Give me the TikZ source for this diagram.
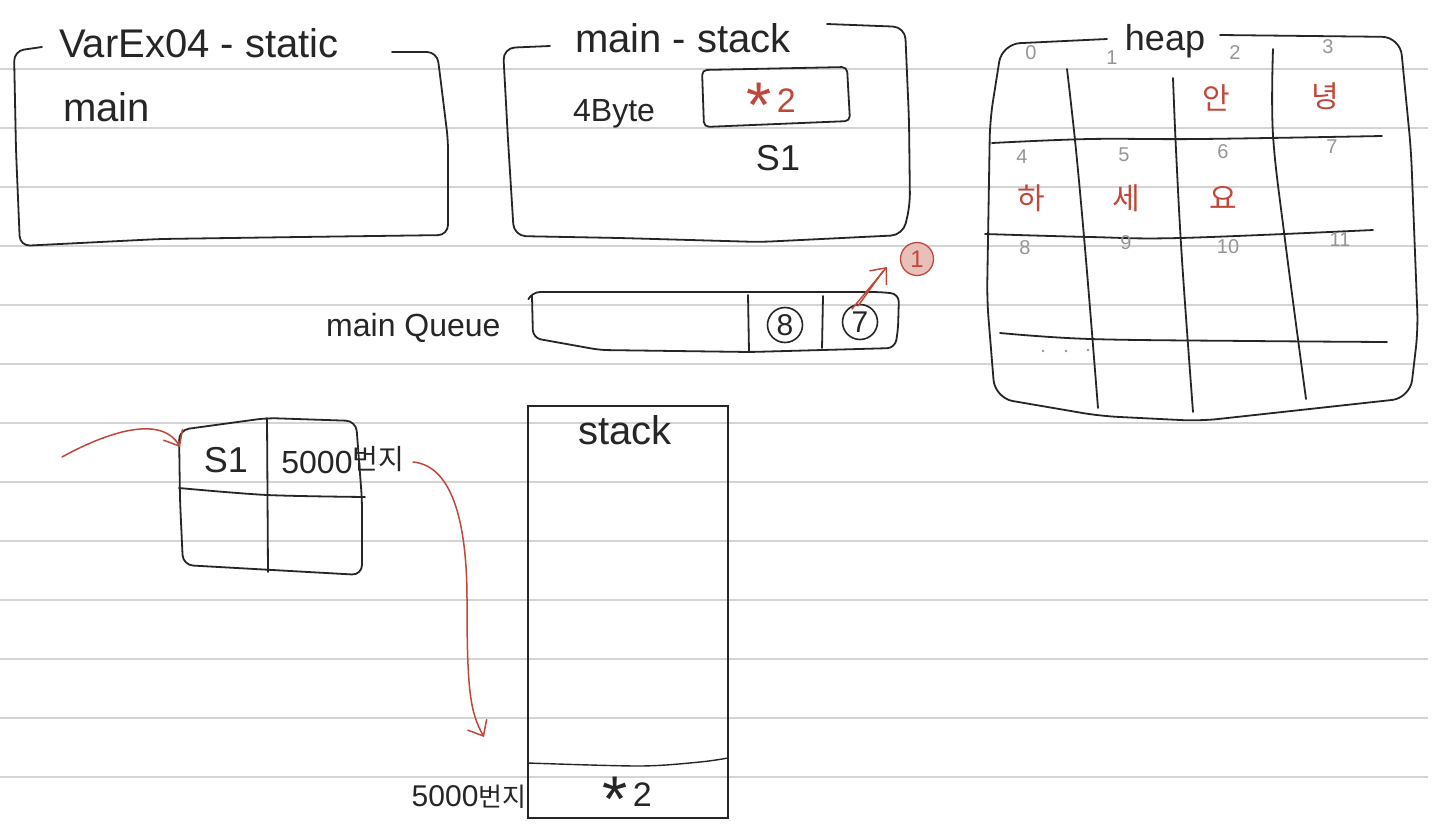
\documentclass[tikz,border=0pt]{standalone}
\usepackage{fontspec}
\setmainfont{Liberation Sans}
\newfontfamily\kr{Noto Sans CJK KR}
\usetikzlibrary{arrows.meta}
\definecolor{penc}{RGB}{38,38,38}
\definecolor{hred}{RGB}{192,72,58}
\definecolor{numgray}{RGB}{150,150,150}
\definecolor{rulec}{RGB}{212,212,212}
\newcommand{\hstar}{\raisebox{-15pt}{\scalebox{1.9}{*}}\,}
\begin{document}
\begin{tikzpicture}[x=1pt,y=-1pt,
 pen/.style={draw=penc,line width=1.8pt,line cap=round,line join=round},
 thinpen/.style={draw=penc,line width=1.4pt},
 redpen/.style={draw=hred,line width=1.5pt,line cap=round,line join=round},
 rulel/.style={draw=rulec,line width=1.2pt},
 txt/.style={inner sep=0pt,text=penc},
 f40/.style={txt,font=\fontsize{40}{40}\selectfont},
 f36/.style={txt,font=\fontsize{36}{36}\selectfont},
 f34/.style={txt,font=\fontsize{34}{34}\selectfont},
 f32/.style={txt,font=\fontsize{32}{32}\selectfont},
 num/.style={inner sep=0pt,text=numgray,font=\fontsize{20}{20}\selectfont},
 hk/.style={inner sep=0pt,text=hred,font=\kr\fontsize{30}{30}\selectfont},
 kr28/.style={txt,font=\kr\fontsize{28}{28}\selectfont},
 circ/.style={circle,draw=penc,line width=1.6pt,minimum size=35pt,inner sep=0pt,text=penc,font=\fontsize{30}{30}\selectfont},
 bar/.style={-{Straight Barb[length=13pt,width=22pt,line width=1.5pt]}}
]
\useasboundingbox (0,0) rectangle (1440,833);
\fill[white] (0,0) rectangle (1440,833);
% ruled paper
\foreach \k in {0,...,12} \draw[rulel] (0,{69+59*\k}) -- (1428,{69+59*\k});

% ---------- VarEx04 - static ----------
\draw[pen,rounded corners=10pt] (42,47) -- (14,51) -- (16,150) -- (20,246) -- (160,239) -- (300,237) -- (448,235) -- (448,140) -- (440,75) -- (437,52) -- (392,52);
\node[f40,anchor=base west] (statict) at (59,57) {VarEx04 - static};
\node[f40,anchor=base west] (mainf) at (63,121) {main};

% ---------- main - stack ----------
\draw[pen,rounded corners=12pt] (550,46) -- (503,48) -- (508,140) -- (514,236) -- (620,238) -- (760,242) -- (903,235) -- (910,205) -- (909,120) -- (905,27) -- (827,24);
\node[f40,anchor=base west] (stackt) at (575,52) {main - stack};
\node[f32,anchor=base west] (byte) at (573,121) {4Byte};
\draw[pen,rounded corners=5pt] (702,70) -- (847,67) -- (850,121) -- (704,127) -- cycle;
\node[f34,text=hred,anchor=base] (star2a) at (771,112) {\hstar 2};
\node[f36,anchor=base] (s1a) at (778,170) {S1};

% ---------- heap ----------
\draw[pen,rounded corners=18pt] (1107,39) -- (1002,44) -- (990,120) -- (987,300) -- (995,398) -- (1100,416) -- (1200,421) -- (1410,398) -- (1418,330) -- (1411,150) -- (1400,37) -- (1220,35);
\node[f36,anchor=base] (heapt) at (1165,50) {heap};
% grid
\draw[pen] plot[smooth,tension=0.6] coordinates {(1067,69) (1076,150) (1086,260) (1098,408)};
\draw[pen] plot[smooth,tension=0.6] coordinates {(1173,78) (1176,150) (1182,260) (1193,412)};
\draw[pen] plot[smooth,tension=0.6] coordinates {(1273,49) (1273,135) (1285,240) (1306,399)};
\draw[pen] plot[smooth,tension=0.6] coordinates {(992,143) (1090,139) (1200,139) (1382,136)};
\draw[pen] plot[smooth,tension=0.6] coordinates {(985,234) (1090,237) (1180,238) (1373,230)};
\draw[pen] plot[smooth,tension=0.6] coordinates {(1000,333) (1090,339) (1250,341) (1387,342)};
\fill[numgray] (1043,351) circle (1.3pt) (1066,351) circle (1.3pt) (1088,350) circle (1.3pt);
% cell numbers
\node[num] (n0) at (1031,53) {0};
\node[num] (n1) at (1112,58) {1};
\node[num] (n2) at (1235,53) {2};
\node[num] (n3) at (1328,47) {3};
\node[num] (n4) at (1022,157) {4};
\node[num] (n5) at (1124,155) {5};
\node[num] (n6) at (1223,152) {6};
\node[num] (n7) at (1332,147) {7};
\node[num] (n8) at (1025,248) {8};
\node[num] (n9) at (1126,243) {9};
\node[num] (n10) at (1228,247) {10};
\node[num] (n11) at (1340,240) {11};
% hangul
\node[hk] (h2) at (1216,98) {안};
\node[hk] (h3) at (1325,96) {녕};
\node[hk] (h4) at (1031,198) {하};
\node[hk] (h5) at (1126,198) {세};
\node[hk] (h6) at (1223,198) {요};

% ---------- main Queue ----------
\node[f32,anchor=base west] (queuet) at (326,336) {main Queue};
\draw[pen,rounded corners=8pt] (529,298) -- (532,292) -- (700,292) -- (880,292) -- (899,294) -- (898,330) -- (895,348) -- (750,352) -- (600,350) -- (533,338) -- (532,296);
\draw[pen] (748,295) -- (749,352);
\draw[pen] (823,296) -- (822,348);
\node[circ] (q8) at (785,325) {8};
\node[circ] (q7) at (860,322) {7};
\coordinate (qa) at (852,309);
\coordinate (qb) at (887,267);
\coordinate (qc) at (858,306);
\coordinate (qd) at (883,271);
\draw[redpen,bar] (qa) -- (qb);
\draw[redpen] (qc) -- (qd);
\node[circle,draw=hred,fill=hred!35,line width=1.3pt,minimum size=33pt,inner sep=0pt,text=hred,font=\fontsize{24}{24}\selectfont] (one) at (917,259) {1};

% ---------- S1 table ----------
\draw[pen,rounded corners=10pt] (180,500) -- (179,430) -- (267,418) -- (356,421) -- (362,500) -- (362,575) -- (183,565) -- cycle;
\draw[pen] (267,418) -- (268,572);
\draw[pen] plot[smooth,tension=0.5] coordinates {(179,488) (267,495) (365,497)};
\node[f36] (s1b) at (226,460) {S1};
\node[f32] (k5000) at (317,462) {5000};
\node[kr28] (bunji1) at (378,459) {번지};
\coordinate (ina) at (62,457);
\coordinate (inb) at (180,447);
\draw[redpen,bar] (ina) .. controls (100,436) and (160,412) .. (inb);
\coordinate (outa) at (413,462);
\coordinate (outm) at (467,600);
\coordinate (outb) at (484,737);
\draw[redpen] (outa) .. controls (455,466) and (467,530) .. (outm);
\draw[redpen,bar] (outm) .. controls (467,690) and (470,712) .. (outb);

% ---------- stack ----------
\draw[thinpen] (528,406) rectangle (728,818);
\node[f40] (stackb) at (625,430) {stack};
\draw[thinpen] plot[smooth,tension=0.5] coordinates {(528,763) (640,766) (700,762) (728,758)};
\node[f34,anchor=base] (star2b) at (627,806) {\hstar 2};
\node[txt] (bunji2) at (469,797) {{\fontsize{30}{30}\selectfont 5000}{\kr\fontsize{26}{26}\selectfont 번지}};
\end{tikzpicture}
\end{document}
